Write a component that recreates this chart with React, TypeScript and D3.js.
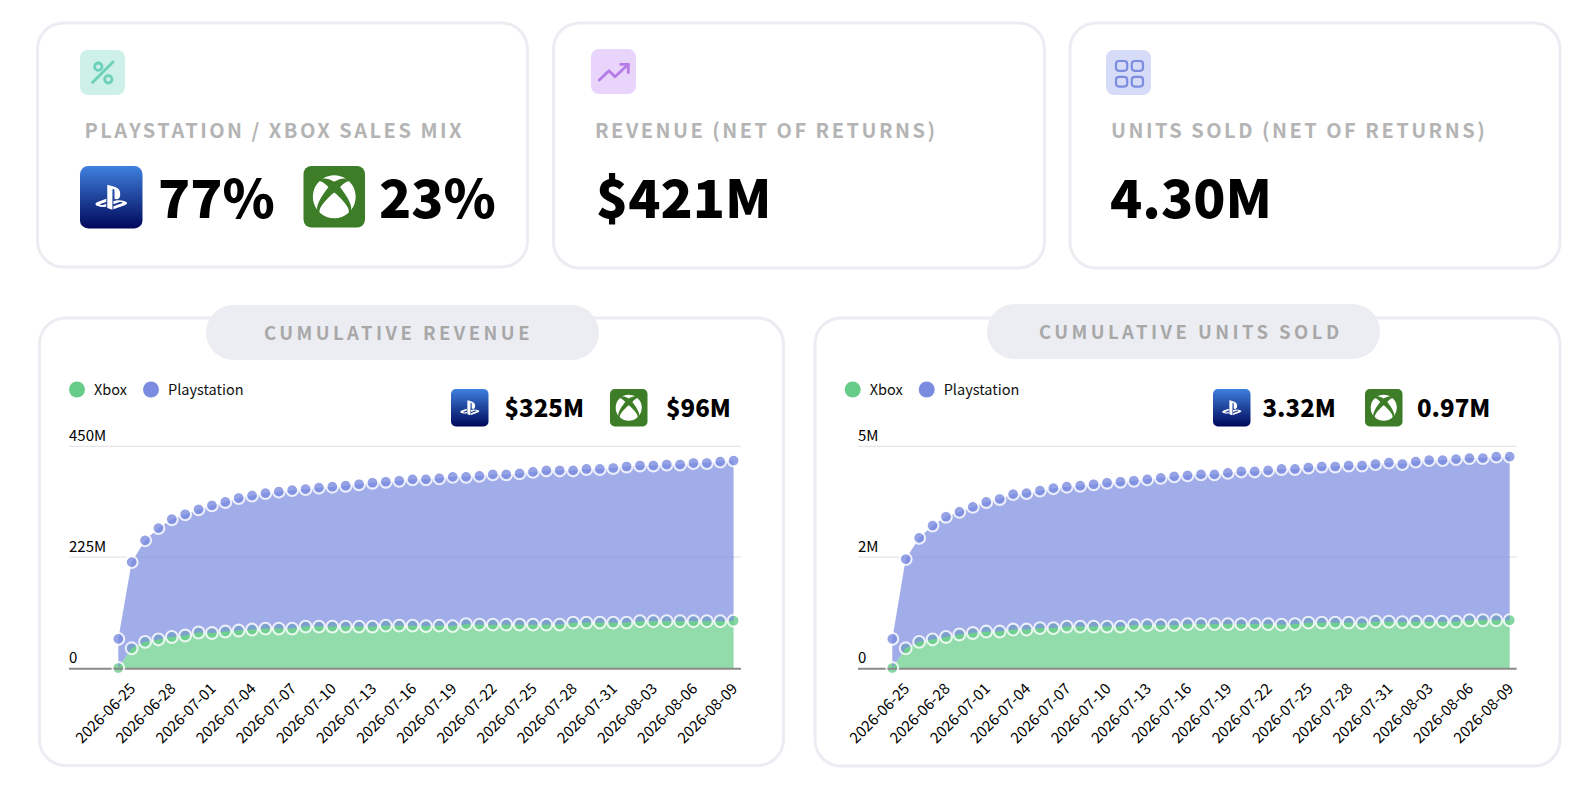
import { useEffect, useRef } from "react";
import * as d3 from "d3";

// one point per day, 2026-06-25 .. 2026-08-10
const dates: string[] = d3
  .timeDays(new Date(2026, 5, 25), new Date(2026, 7, 11))
  .map((d) => d3.timeFormat("%Y-%m-%d")(d));

const seriesNames = ["Xbox", "Playstation"];

// $M per day, cumulative
const revenueXbox = [
  0, 40, 53, 58, 63, 66, 72, 71, 74, 76, 78, 80, 80, 80, 84, 84, 84, 84, 84, 84, 86, 86, 86, 85,
  86, 85, 89, 88, 88, 88, 88, 88, 88, 88, 92, 92, 92, 92, 92, 95, 95, 95, 95, 95, 95, 95, 96,
];
const revenuePlaystation = [
  59, 175, 206, 226, 239, 246, 250, 259, 263, 269, 272, 275, 278, 281, 279, 282, 284, 286, 289,
  292, 292, 294, 297, 298, 299, 303, 299, 302, 305, 305, 307, 310, 313, 313, 309, 312, 312, 314,
  317, 316, 316, 318, 318, 321, 321, 324, 325,
];

// M units per day, cumulative
const unitsXbox = [
  0, 0.4, 0.53, 0.58, 0.63, 0.68, 0.71, 0.74, 0.74, 0.78, 0.78, 0.81, 0.81, 0.84, 0.84, 0.84, 0.84,
  0.84, 0.87, 0.87, 0.87, 0.87, 0.89, 0.89, 0.89, 0.89, 0.89, 0.89, 0.89, 0.88, 0.89, 0.92, 0.92,
  0.92, 0.92, 0.91, 0.94, 0.94, 0.93, 0.94, 0.94, 0.94, 0.94, 0.97, 0.97, 0.97, 0.97,
];
const unitsPlaystation = [
  0.59, 1.81, 2.11, 2.31, 2.44, 2.49, 2.56, 2.63, 2.69, 2.75, 2.77, 2.79, 2.84, 2.84, 2.86, 2.89,
  2.92, 2.94, 2.93, 2.96, 2.99, 3.02, 3.02, 3.04, 3.04, 3.07, 3.1, 3.1, 3.12, 3.16, 3.15, 3.15,
  3.17, 3.17, 3.19, 3.2, 3.2, 3.23, 3.21, 3.25, 3.28, 3.28, 3.3, 3.29, 3.29, 3.32, 3.32,
];

const revenueTicks = [0, 225, 450];
const unitsTicks = [0, 2.25, 4.5];

const FONT = "'Noto Sans CJK JP', 'Noto Sans', sans-serif";
const XBOX_COLOR = "#66cc88";
const PS_COLOR = "#7b8ce0";
const BORDER = "#ecedf3";

const PS_PATH =
  "M8.984 2.596v17.547l3.915 1.261V6.688c0-.69.304-1.151.794-.991.636.18.76.814.76 1.505v5.875c2.441 1.193 4.362-.002 4.362-3.152 0-3.237-1.126-4.675-4.438-5.827-1.307-.448-3.728-1.186-5.39-1.502h-.003zm4.656 16.241l6.296-2.275c.715-.258.826-.625.246-.818-.586-.192-1.637-.139-2.357.123l-4.205 1.5V14.98l.24-.085s1.201-.42 2.913-.615c1.696-.18 3.785.03 5.437.661 1.848.601 2.04 1.472 1.576 2.072-.465.6-1.622 1.036-1.622 1.036l-8.544 3.107V18.86zM1.807 18.6c-1.9-.545-2.214-1.668-1.352-2.32.801-.586 2.16-1.052 2.16-1.052l5.615-2.013v2.313L4.205 17c-.705.271-.825.632-.239.826.586.195 1.637.15 2.343-.12L8.247 17v2.074c-.12.03-.256.044-.39.073-1.939.331-3.996.196-6.038-.479z";
const XBOX_PATH =
  "M4.102 21.033A11.947 11.947 0 0 0 12 24a11.96 11.96 0 0 0 7.902-2.967c1.877-1.912-4.316-8.709-7.902-11.417-3.582 2.708-9.779 9.505-7.898 11.417zm11.16-14.406c2.5 2.961 7.484 10.313 6.076 12.912A11.942 11.942 0 0 0 24 12.004a11.95 11.95 0 0 0-3.57-8.536s-.027-.022-.082-.042a.848.848 0 0 0-.281-.045c-.592 0-1.985.434-4.805 3.246zM3.654 3.426c-.057.02-.082.041-.086.042A11.956 11.956 0 0 0 0 12.004c0 2.854 1.006 5.473 2.661 7.533-1.401-2.605 3.579-9.951 6.08-12.91-2.82-2.813-4.216-3.245-4.806-3.245a.777.777 0 0 0-.281.046v-.002zM12 3.551S9.055 1.828 6.755 1.746c-.903-.033-1.454.295-1.521.339C7.379.646 9.659 0 11.984 0H12c2.334 0 4.605.646 6.766 2.085-.068-.046-.615-.372-1.52-.339C14.946 1.828 12 3.545 12 3.545v.006z";

function PsBadge({ x, y, size }: { x: number; y: number; size: number }) {
  const k = (size / 63) * 1.33;
  return (
    <g transform={`translate(${x},${y})`}>
      <rect width={size} height={size} rx={size * 0.13} fill="url(#ps-grad)" />
      <path
        d={PS_PATH}
        fill="#fff"
        transform={`translate(${size / 2 - 12 * k},${size / 2 - 12 * k}) scale(${k})`}
      />
    </g>
  );
}

function XboxBadge({ x, y, size }: { x: number; y: number; size: number }) {
  const k = (size / 62) * 1.8;
  return (
    <g transform={`translate(${x},${y})`}>
      <rect width={size} height={size} rx={size * 0.13} fill="#3d7d28" />
      <path
        d={XBOX_PATH}
        fill="#fff"
        transform={`translate(${size / 2 - 12 * k},${size / 2 - 12 * k}) scale(${k})`}
      />
    </g>
  );
}

function Card({ x, y, w, h }: { x: number; y: number; w: number; h: number }) {
  return <rect x={x} y={y} width={w} height={h} rx={26} fill="#fff" stroke={BORDER} strokeWidth={3} />;
}

function StatLabel({ x, children }: { x: number; children: string }) {
  return (
    <text x={x} y={138} fontSize={20} fontWeight={700} fill="#b4b4b4" letterSpacing={2.48}>
      {children}
    </text>
  );
}

function BigValue({ x, children }: { x: number; children: string }) {
  return (
    <text x={x} y={218} fontSize={53} fontWeight={900} fill="#000">
      {children}
    </text>
  );
}

function ChartTitle({ x, y, textX, children }: { x: number; y: number; textX: number; children: string }) {
  return (
    <g>
      <rect x={x} y={y} width={393} height={55} rx={27.5} fill={BORDER} />
      <text x={textX} y={y + 34.5} fontSize={18.5} fontWeight={700} fill="#a8a8a8" letterSpacing={3.45}>
        {children}
      </text>
    </g>
  );
}

interface PlotProps {
  xbox: number[];
  playstation: number[];
  ticks: number[];
  x0: number;
  x1: number;
  axisLeft: number;
  axisRight: number;
}

function StackedPlot({ xbox, playstation, ticks, x0, x1, axisLeft, axisRight }: PlotProps) {
  const ref = useRef<SVGGElement>(null);

  useEffect(() => {
    if (!ref.current) return;
    const root = d3.select(ref.current);
    root.selectAll("*").remove();

    const xScale = d3.scalePoint<string>().domain(dates).range([x0, x1]);
    const yScale = d3
      .scaleLinear()
      .domain([0, ticks[ticks.length - 1]])
      .range([668, 446.3]);

    const rows = dates.map((date, i) => ({ date, Xbox: xbox[i], Playstation: playstation[i] }));
    const stacked = d3.stack<(typeof rows)[number]>().keys(seriesNames)(rows as any);
    const colors = [XBOX_COLOR, PS_COLOR];

    // grid
    root
      .append("g")
      .selectAll("line")
      .data(ticks.filter((t) => t > 0))
      .enter()
      .append("line")
      .attr("x1", axisLeft)
      .attr("x2", axisRight)
      .attr("y1", (d) => yScale(d))
      .attr("y2", (d) => yScale(d))
      .attr("stroke", "#e6e6ea")
      .attr("stroke-width", 1.2);

    // dots sit under the areas, only their rings stay on top
    stacked.forEach((layer, s) => {
      root
        .append("g")
        .selectAll("circle")
        .data(layer)
        .enter()
        .append("circle")
        .attr("cx", (d) => xScale(d.data.date)!)
        .attr("cy", (d) => yScale(d[1]))
        .attr("r", 5.2)
        .attr("fill", colors[s])
        .attr("fill-opacity", 0.8);
    });

    const area = d3
      .area<d3.SeriesPoint<(typeof rows)[number]>>()
      .x((d) => xScale(d.data.date)!)
      .y0((d) => yScale(d[0]))
      .y1((d) => yScale(d[1]));

    stacked.forEach((layer, s) => {
      root.append("path").attr("d", area(layer)!).attr("fill", colors[s]).attr("fill-opacity", 0.71);
    });

    // baseline
    root
      .append("line")
      .attr("x1", axisLeft)
      .attr("x2", axisRight)
      .attr("y1", yScale(0) + 0.7)
      .attr("y2", yScale(0) + 0.7)
      .attr("stroke", "#8a8a8a")
      .attr("stroke-width", 2);

    stacked.forEach((layer) => {
      root
        .append("g")
        .selectAll("circle")
        .data(layer)
        .enter()
        .append("circle")
        .attr("cx", (d) => xScale(d.data.date)!)
        .attr("cy", (d) => yScale(d[1]))
        .attr("r", 5.9)
        .attr("fill", "none")
        .attr("stroke", "#fff")
        .attr("stroke-opacity", 0.8)
        .attr("stroke-width", 2.1);
    });

    // x axis, one label every third day
    const xAxis = d3
      .axisBottom(xScale)
      .tickValues(dates.filter((_, i) => i % 3 === 0))
      .tickSize(0);
    const gx = root.append("g").attr("transform", `translate(0,${yScale(0)})`).call(xAxis);
    gx.select(".domain").remove();
    gx.selectAll<SVGTextElement, string>("text")
      .attr("transform", "translate(14,18) rotate(-45)")
      .attr("x", 0)
      .attr("y", 0)
      .attr("dy", "0.35em")
      .attr("text-anchor", "end")
      .attr("fill", "#000")
      .style("font-size", "15px")
      .style("font-family", FONT);

    // y axis labels sit on top of the grid lines
    const yAxis = d3
      .axisLeft(yScale)
      .tickValues(ticks)
      .tickSize(0)
      .tickFormat((d) => (Number(d) === 0 ? "0" : `${Math.round(Number(d))}M`));
    const gy = root.append("g").attr("transform", `translate(${axisLeft},0)`).call(yAxis);
    gy.select(".domain").remove();
    gy.selectAll<SVGTextElement, number>("text")
      .attr("x", 0)
      .attr("y", -5.5)
      .attr("dy", 0)
      .attr("text-anchor", "start")
      .attr("fill", "#000")
      .style("font-size", "15px")
      .style("font-family", FONT);
  }, [xbox, playstation, ticks, x0, x1, axisLeft, axisRight]);

  return <g ref={ref} />;
}

function Legend({ x }: { x: number }) {
  return (
    <g fontSize={14.5} fill="#111">
      <circle cx={x} cy={389.5} r={8} fill={XBOX_COLOR} />
      <text x={x + 17} y={394.5}>
        {seriesNames[0]}
      </text>
      <circle cx={x + 74} cy={389.5} r={8} fill={PS_COLOR} />
      <text x={x + 91} y={394.5}>
        {seriesNames[1]}
      </text>
    </g>
  );
}

function BadgeValue({ x, children }: { x: number; children: string }) {
  return (
    <text x={x} y={416.5} fontSize={24} fontWeight={900} fill="#000">
      {children}
    </text>
  );
}

export default function App() {
  return (
    <svg
      width={1574}
      height={786}
      viewBox="0 0 1574 786"
      style={{ position: "fixed", left: 0, top: 0, fontFamily: FONT, background: "#fff" }}
    >
      <defs>
        <linearGradient id="ps-grad" x1="0" y1="0" x2="0" y2="1">
          <stop offset="0%" stopColor="#3f80de" />
          <stop offset="100%" stopColor="#00085a" />
        </linearGradient>
      </defs>

      {/* top stat cards */}
      <Card x={37.5} y={23} w={490} h={244} />
      <Card x={553.5} y={23} w={491} h={245} />
      <Card x={1070} y={23} w={490} h={245} />

      <rect x={80} y={50} width={45} height={45} rx={8} fill="#cdf0e9" />
      <g fill="none" stroke="#6dd0b8" strokeWidth={2.8} strokeLinecap="round" transform="translate(80,50)">
        <line x1={12.5} y1={32.5} x2={33} y2={12} />
        <circle cx={18.3} cy={16.7} r={3.7} />
        <circle cx={28.3} cy={29.3} r={3.7} />
      </g>
      <StatLabel x={84.5}>PLAYSTATION / XBOX SALES MIX</StatLabel>
      <PsBadge x={80} y={166} size={62.5} />
      <BigValue x={158}>77%</BigValue>
      <XboxBadge x={303.5} y={166} size={61.5} />
      <BigValue x={379}>23%</BigValue>

      <rect x={591} y={49} width={45} height={45} rx={8} fill="#e9d5fc" />
      <g
        fill="none"
        stroke="#b57ce8"
        strokeWidth={2.8}
        strokeLinecap="round"
        strokeLinejoin="round"
        transform="translate(591,49)"
      >
        <polyline points="8.3,31 18,21.7 24,27.7 37.3,15.3" />
        <polyline points="29.7,15.3 37.3,15.3 37.3,23.7" />
      </g>
      <StatLabel x={595}>REVENUE (NET OF RETURNS)</StatLabel>
      <BigValue x={596}>$421M</BigValue>

      <rect x={1106} y={50} width={45} height={45} rx={8} fill="#d6dbf7" />
      <g fill="none" stroke="#7c8de0" strokeWidth={2.2} transform="translate(1106,50)">
        <rect x={10} y={11} width={11.2} height={9.8} rx={3} />
        <rect x={25.8} y={11} width={11.2} height={9.8} rx={3} />
        <rect x={10} y={26.8} width={11.2} height={9.8} rx={3} />
        <rect x={25.8} y={26.8} width={11.2} height={9.8} rx={3} />
      </g>
      <StatLabel x={1111}>UNITS SOLD (NET OF RETURNS)</StatLabel>
      <BigValue x={1110}>4.30M</BigValue>

      {/* revenue */}
      <Card x={39.5} y={318} w={744} h={447.5} />
      <ChartTitle x={206} y={305} textX={264}>
        CUMULATIVE REVENUE
      </ChartTitle>
      <Legend x={77} />
      <PsBadge x={451} y={389} size={37.5} />
      <BadgeValue x={504.5}>$325M</BadgeValue>
      <XboxBadge x={610} y={389} size={37.5} />
      <BadgeValue x={666}>$96M</BadgeValue>
      <StackedPlot
        xbox={revenueXbox}
        playstation={revenuePlaystation}
        ticks={revenueTicks}
        x0={118.3}
        x1={733.6}
        axisLeft={69}
        axisRight={741}
      />

      {/* units */}
      <Card x={815} y={318} w={745} h={448} />
      <ChartTitle x={987} y={304} textX={1039}>
        CUMULATIVE UNITS SOLD
      </ChartTitle>
      <Legend x={852.7} />
      <PsBadge x={1213} y={389} size={37.5} />
      <BadgeValue x={1262.5}>3.32M</BadgeValue>
      <XboxBadge x={1365} y={389} size={37.5} />
      <BadgeValue x={1417}>0.97M</BadgeValue>
      <StackedPlot
        xbox={unitsXbox}
        playstation={unitsPlaystation}
        ticks={unitsTicks}
        x0={892.3}
        x1={1509.7}
        axisLeft={858}
        axisRight={1516.7}
      />
    </svg>
  );
}
